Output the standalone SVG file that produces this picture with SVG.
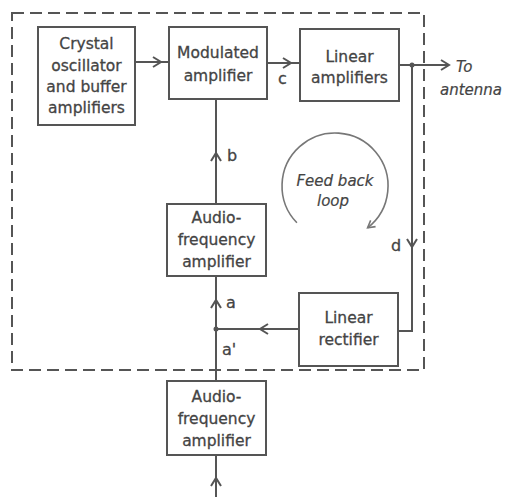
<svg xmlns="http://www.w3.org/2000/svg" width="510" height="497" viewBox="0 0 510 497">
<defs>
<style>
.box{fill:#fff;stroke:#555;stroke-width:2}
.ln{fill:none;stroke:#555;stroke-width:2}
.t{font-family:"DejaVu Sans","Liberation Sans",sans-serif;font-size:15.5px;fill:#444;stroke:#444;stroke-width:0.3;text-anchor:middle}
.lb{font-family:"DejaVu Sans","Liberation Sans",sans-serif;font-size:16px;fill:#444;stroke:#444;stroke-width:0.3}
.it{font-family:"DejaVu Sans","Liberation Sans",sans-serif;font-size:15px;font-style:italic;fill:#444;stroke:#444;stroke-width:0.2}
</style>
<marker id="arr" markerWidth="12" markerHeight="12" refX="0" refY="0" viewBox="-10 -6 12 12" orient="auto" markerUnits="userSpaceOnUse">
<path d="M-8,-5 L0,0 L-8,5" fill="none" stroke="#555" stroke-width="2"/>
</marker>
<marker id="arr2" markerWidth="12" markerHeight="12" refX="0" refY="0" viewBox="-9 -6 12 12" orient="auto" markerUnits="userSpaceOnUse">
<path d="M-7,-4 L0,0 L-7,4" fill="none" stroke="#777" stroke-width="1.6"/>
</marker>
</defs>
<rect width="510" height="497" fill="#fff"/>
<rect x="12" y="13" width="412" height="357" fill="none" stroke="#555" stroke-width="2" stroke-dasharray="12,6"/>
<g id="connectors">
<path class="ln" d="M135,62 H161 H169" marker-mid="url(#arr)"/>
<path class="ln" d="M267,63 H291 H300" marker-mid="url(#arr)"/>
<path class="ln" d="M399,65 H449" marker-end="url(#arr)"/>
<circle cx="412" cy="65" r="2.5" fill="#555"/>
<path class="ln" d="M412,65 V247" marker-end="url(#arr)"/>
<path class="ln" d="M412,247 V331 H398"/>
<path class="ln" d="M299,329 H260" marker-end="url(#arr)"/>
<path class="ln" d="M260,329 H216"/>
<circle cx="216" cy="329" r="2.5" fill="#555"/>
<path class="ln" d="M216,381 V329"/>
<path class="ln" d="M216,329 V300" marker-end="url(#arr)"/>
<path class="ln" d="M216,300 V276"/>
<path class="ln" d="M216,204 V153" marker-end="url(#arr)"/>
<path class="ln" d="M216,153 V99"/>
<path class="ln" d="M216,497 V478" marker-end="url(#arr)"/>
<path class="ln" d="M216,478 V455"/>
<text class="lb" x="227" y="161">b</text>
<text class="lb" x="278" y="84">c</text>
<text class="lb" x="391" y="251">d</text>
<text class="lb" x="226" y="308">a</text>
<text class="lb" x="222" y="355">a'</text>
<text class="it" x="456" y="72">To</text>
<text class="it" x="440" y="95">antenna</text>
</g>
<g id="feedback">
<path d="M296.9,222.8 A53,53 0 1 1 367.6,227.8" fill="none" stroke="#777" stroke-width="1.6" marker-end="url(#arr2)"/>
<text class="it" x="335" y="186" text-anchor="middle">Feed back</text>
<text class="it" x="333" y="206" text-anchor="middle">loop</text>
</g>
<g id="crystal">
<rect class="box" x="38" y="27" width="97" height="98"/>
<text class="t" x="86.5" y="49">Crystal</text>
<text class="t" x="86.5" y="71">oscillator</text>
<text class="t" x="86.5" y="92">and buffer</text>
<text class="t" x="86.5" y="113">amplifiers</text>
</g>
<g id="modulated">
<rect class="box" x="169" y="27" width="98" height="72"/>
<text class="t" x="218" y="58">Modulated</text>
<text class="t" x="218" y="81">amplifier</text>
</g>
<g id="linear-amplifiers">
<rect class="box" x="300" y="29" width="99" height="72"/>
<text class="t" x="349.5" y="62">Linear</text>
<text class="t" x="349.5" y="83">amplifiers</text>
</g>
<g id="audio1">
<rect class="box" x="167" y="204" width="99" height="72"/>
<text class="t" x="216.5" y="223">Audio-</text>
<text class="t" x="216.5" y="245">frequency</text>
<text class="t" x="216.5" y="267">amplifier</text>
</g>
<g id="rectifier">
<rect class="box" x="299" y="293" width="99" height="73"/>
<text class="t" x="348.5" y="323">Linear</text>
<text class="t" x="348.5" y="345">rectifier</text>
</g>
<g id="audio2">
<rect class="box" x="167" y="381" width="99" height="74"/>
<text class="t" x="216.5" y="402">Audio-</text>
<text class="t" x="216.5" y="424">frequency</text>
<text class="t" x="216.5" y="446">amplifier</text>
</g>
</svg>
